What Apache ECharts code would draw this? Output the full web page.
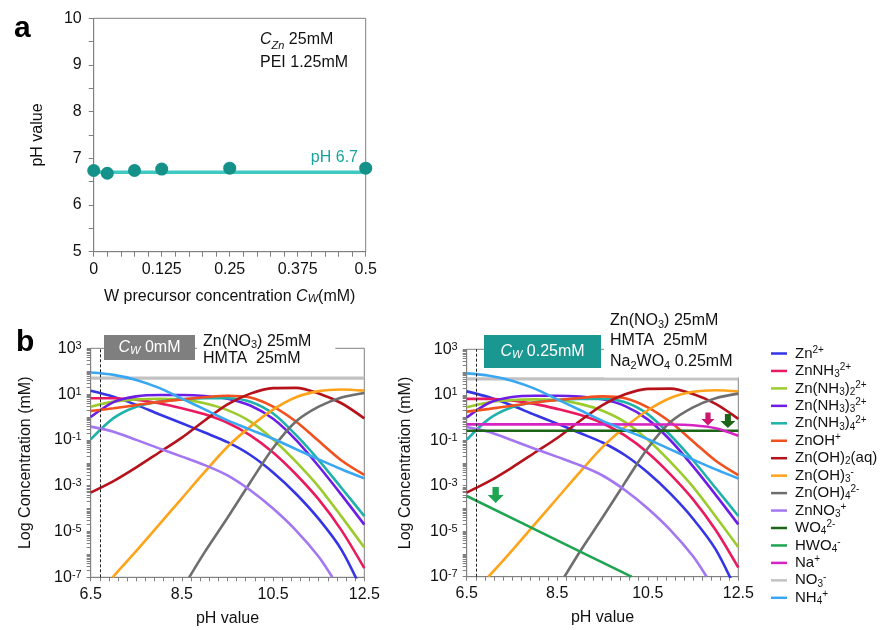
<!DOCTYPE html>
<html><head><meta charset="utf-8">
<script src="https://cdn.jsdelivr.net/npm/echarts@6/dist/echarts.min.js"></script>
<style>html,body{margin:0;padding:0;background:#fff}#c{width:888px;height:630px}</style>
</head><body><div id="c"></div>
<script>
// ---------- panel a: solution pH versus W precursor concentration ----------
const wConc = [0, 0.025, 0.075, 0.125, 0.25, 0.5];          // mM
const measuredPH = [6.74, 6.68, 6.74, 6.77, 6.79, 6.79];
const meanPH = 6.7;
const wRange = [0, 0.5];

// ---------- panel b: species distribution, values are log10 of concentration in mM ----------
const phGrid = [6.5, 7, 7.5, 8, 8.5, 9, 9.5, 10, 10.5, 11, 11.5, 12, 12.5];
const phTickValues = [6.5, 8.5, 10.5, 12.5];
const decadeLabels = [-7, -5, -3, -1, 1, 3];

const logZn = [1.15, 0.89, 0.53, 0.12, -0.27, -0.68, -1.1, -1.66, -2.42, -3.35, -4.45, -5.8, -7.8];
const logZnNH3 = [0.82, 0.82, 0.75, 0.6, 0.38, 0.12, -0.25, -0.8, -1.55, -2.5, -3.6, -4.95, -6.6];
const logZnNH3x2 = [0.45, 0.67, 0.77, 0.8, 0.77, 0.6, 0.3, -0.2, -0.98, -1.95, -3.05, -4.35, -5.7];
const logZnNH3x3 = [0.0, 0.65, 0.9, 0.96, 0.96, 0.92, 0.8, 0.5, -0.08, -1.0, -2.15, -3.4, -4.7];
const logZnNH3x4 = [-0.98, -0.05, 0.45, 0.67, 0.77, 0.82, 0.82, 0.67, 0.15, -0.78, -1.88, -3.1, -4.33];
const logZnOH = [0.26, 0.38, 0.52, 0.66, 0.77, 0.86, 0.93, 0.85, 0.45, -0.2, -1.05, -1.9, -2.53];
const logZnOH2 = [-3.3, -2.8, -2.2, -1.55, -0.9, -0.15, 0.55, 1.02, 1.26, 1.27, 1.03, 0.6, -0.06];
const logZnOH3 = [[6.98, -7], [7.5, -5.85], [8, -4.7], [8.5, -3.55], [9, -2.4], [9.5, -1.3], [10, -0.42], [10.5, 0.32], [11, 0.86], [11.5, 1.13], [12, 1.2], [12.5, 1.15]];
const logZnOH4 = [[8.66, -7], [9, -5.9], [9.5, -4.4], [10, -2.85], [10.5, -1.35], [11, -0.2], [11.5, 0.45], [12, 0.85], [12.5, 1.05]];
const logZnNO3 = [[6.5, -0.42], [7, -0.64], [7.5, -1.0], [8, -1.37], [8.5, -1.73], [9, -2.1], [9.5, -2.55], [10, -3.2], [10.5, -4.0], [11, -4.95], [11.5, -6.1], [11.8, -7]];
const logWO4 = [[6.5, -0.58], [12.5, -0.58]];
const logHWO4 = [[6.5, -3.45], [8.5, -5.4], [10.14, -7]];
const logNa = [[6.5, -0.3], [11, -0.31], [11.5, -0.34], [12, -0.47], [12.5, -0.8]];
const logNO3 = [[6.5, 1.7], [12.5, 1.7]];
const logNH4 = [1.94, 1.84, 1.62, 1.27, 0.8, 0.33, -0.15, -0.55, -0.95, -1.4, -1.85, -2.28, -2.68];

const speciesNames = ['Zn2+', 'ZnNH32+', 'Zn(NH3)22+', 'Zn(NH3)32+', 'Zn(NH3)42+', 'ZnOH+', 'Zn(OH)2(aq)',
  'Zn(OH)3-', 'Zn(OH)42-', 'ZnNO3+', 'WO42-', 'HWO4-', 'Na+', 'NO3-', 'NH4+'];
const speciesLabels = ['Zn{sp|2+}', 'ZnNH{sb|3}{sp|2+}', 'Zn(NH{sb|3}){sb|2}{sp|2+}', 'Zn(NH{sb|3}){sb|3}{sp|2+}',
  'Zn(NH{sb|3}){sb|4}{sp|2+}', 'ZnOH{sp|+}', 'Zn(OH){sb|2}(aq)', 'Zn(OH){sb|3}{sp|-}', 'Zn(OH){sb|4}{sp|2-}',
  'ZnNO{sb|3}{sp|+}', 'WO{sb|4}{sp|2-}', 'HWO{sb|4}{sp|-}', 'Na{sp|+}', 'NO{sb|3}{sp|-}', 'NH{sb|4}{sp|+}'];
const speciesColors = ['#3535e6', '#ea1a5e', '#9ccb2e', '#6d1de6', '#1fb1ac', '#f2501e', '#b5121b',
  '#ffa31a', '#6e6e6e', '#a377f2', '#1d6516', '#1fa452', '#d624c4', '#c2c2c2', '#3aa7f2'];
const speciesLogs = [logZn, logZnNH3, logZnNH3x2, logZnNH3x3, logZnNH3x4, logZnOH, logZnOH2,
  logZnOH3, logZnOH4, logZnNO3, logWO4, logHWO4, logNa, logNO3, logNH4];
// species that only exist once tungstate is added (absent from the left panel)
const noTungstate = ['WO42-', 'HWO4-', 'Na+'];

// down-arrow markers: [species, pH, log10 mM, width, height]
const arrows = [
  ['Na+', 11.83, -0.07, 13, 13],
  ['WO42-', 12.27, -0.15, 15, 14],
  ['HWO4-', 7.14, -3.41, 16, 16]
];
const arrowColors = { 'Na+': '#d0176f', 'WO42-': '#1d6516', 'HWO4-': '#1fa452' };

const toPairs = arr => (typeof arr[0] === 'number' ? arr.map((v, i) => [phGrid[i], v]) : arr);

// log-spaced tick positions (1..9 x 10^n) for the concentration axes
const logTicks = [];
for (let n = -7; n < 3; n++) for (let k = 1; k <= 9; k++) logTicks.push(n + Math.log10(k));
logTicks.push(3);

const FONT = 'Liberation Sans, Arial, sans-serif';
const AXIS_GRAY = '#808080';
const supRich = { fontSize: 11, fontFamily: FONT, verticalAlign: 'top', lineHeight: 12, color: '#111' };

const arrowPath = 'path://M3,0 L7,0 L7,6 L10,6 L5,12 L0,6 L3,6 Z';

function speciesSeries(panel) {
  const out = [];
  speciesNames.forEach((name, i) => {
    if (panel === 0 && noTungstate.includes(name)) return;
    const s = {
      name, type: 'line', xAxisIndex: panel + 1, yAxisIndex: panel + 1,
      data: toPairs(speciesLogs[i]), showSymbol: false, smooth: 0.3,
      clip: true, silent: true,
      lineStyle: { color: speciesColors[i], width: name === 'NO3-' ? 3.2 : 2.6 },
      itemStyle: { color: speciesColors[i] }
    };
    if (name === 'NO3-') {
      s.markLine = {
        silent: true, symbol: ['none', 'none'], label: { show: false },
        lineStyle: { color: '#222', type: [3, 2], width: 1 },
        data: [{ xAxis: 6.7 }]
      };
    }
    if (panel === 1) {
      const marks = arrows.filter(a => a[0] === name);
      if (marks.length) {
        s.markPoint = {
          silent: true, symbol: arrowPath, label: { show: false },
          itemStyle: { color: arrowColors[name] },
          data: marks.map(a => ({ coord: [a[1], a[2]], symbolSize: [a[3], a[4]] }))
        };
      }
    }
    out.push(s);
  });
  return out;
}

function logYAxis(grid, gap) {
  return {
    type: 'value', gridIndex: grid, min: -7, max: 3, interval: 1,
    name: 'Log Concentration (mM)', nameLocation: 'middle', nameGap: gap,
    nameTextStyle: { fontSize: 16, fontFamily: FONT, color: '#111' },
    axisLine: { show: true, lineStyle: { color: AXIS_GRAY } },
    axisTick: { show: true, length: 4, customValues: logTicks, lineStyle: { color: AXIS_GRAY } },
    splitLine: { show: false },
    axisLabel: {
      fontSize: 16, fontFamily: FONT, color: '#111', margin: 9, customValues: decadeLabels,
      formatter: v => '10{sp|' + v + '}',
      rich: { sp: supRich }
    }
  };
}

function phXAxis(grid) {
  const ticks = [];
  for (let k = 0; k <= 30; k++) ticks.push(+(6.5 + k * 0.2).toFixed(1));
  return {
    type: 'value', gridIndex: grid, min: 6.5, max: 12.5,
    name: 'pH value', nameLocation: 'middle', nameGap: 33,
    nameTextStyle: { fontSize: 16, fontFamily: FONT, color: '#111' },
    axisLine: { show: true, onZero: false, lineStyle: { color: AXIS_GRAY } },
    axisTick: { show: true, length: 4, customValues: ticks, lineStyle: { color: AXIS_GRAY } },
    splitLine: { show: false },
    axisLabel: { fontSize: 16, fontFamily: FONT, color: '#111', margin: 9, customValues: phTickValues }
  };
}

const chart = echarts.init(document.getElementById('c'), null, { renderer: 'canvas' });

chart.setOption({
  animation: false,
  backgroundColor: '#fff',
  grid: [
    { left: 93.7, top: 18.3, width: 272, height: 233.4, show: true, borderColor: AXIS_GRAY, borderWidth: 1, backgroundColor: 'transparent' },
    { left: 90.7, top: 348.3, width: 273.6, height: 229, show: true, borderColor: AXIS_GRAY, borderWidth: 1, backgroundColor: 'transparent' },
    { left: 466.7, top: 349.3, width: 271.6, height: 227.4, show: true, borderColor: AXIS_GRAY, borderWidth: 1, backgroundColor: 'transparent' }
  ],
  xAxis: [
    {
      type: 'value', gridIndex: 0, min: wRange[0], max: wRange[1], interval: 0.125,
      name: 'W precursor concentration {i|C}{isb|W}(mM)', nameLocation: 'middle', nameGap: 37,
      nameTextStyle: {
        fontSize: 16, fontFamily: FONT, color: '#111',
        rich: { i: { fontSize: 16, fontFamily: FONT, fontStyle: 'italic', color: '#111' },
                isb: { fontSize: 11, fontFamily: FONT, fontStyle: 'italic', verticalAlign: 'bottom', lineHeight: 12, color: '#111' } }
      },
      axisLine: { show: true, onZero: false, lineStyle: { color: AXIS_GRAY } },
      axisTick: { show: true, length: 5, lineStyle: { color: AXIS_GRAY } },
      minorTick: { show: true, splitNumber: 5, length: 5, lineStyle: { color: AXIS_GRAY } },
      splitLine: { show: false },
      axisLabel: { fontSize: 16, fontFamily: FONT, color: '#111', margin: 10 }
    },
    phXAxis(1),
    phXAxis(2)
  ],
  yAxis: [
    {
      type: 'value', gridIndex: 0, min: 5, max: 10, interval: 1,
      name: 'pH value', nameLocation: 'middle', nameGap: 48,
      nameTextStyle: { fontSize: 16, fontFamily: FONT, color: '#111' },
      axisLine: { show: true, lineStyle: { color: AXIS_GRAY } },
      axisTick: { show: true, length: 5, lineStyle: { color: AXIS_GRAY } },
      minorTick: { show: true, splitNumber: 2, length: 5, lineStyle: { color: AXIS_GRAY } },
      splitLine: { show: false },
      axisLabel: { fontSize: 16, fontFamily: FONT, color: '#111', margin: 12 }
    },
    logYAxis(1, 57),
    logYAxis(2, 53)
  ],
  legend: {
    orient: 'vertical', left: 766, top: 340, itemGap: 0.45, itemWidth: 16, itemHeight: 2.5,
    icon: 'rect', selectedMode: false,
    data: speciesNames,
    formatter: n => speciesLabels[speciesNames.indexOf(n)],
    textStyle: {
      fontSize: 15, fontFamily: FONT, color: '#111', lineHeight: 17, padding: [0, 0, 0, 3],
      rich: {
        sp: { fontSize: 10, fontFamily: FONT, verticalAlign: 'top', lineHeight: 11, color: '#111' },
        sb: { fontSize: 10, fontFamily: FONT, verticalAlign: 'bottom', lineHeight: 11, color: '#111' }
      }
    }
  },
  series: [
    {
      name: 'mean pH', type: 'line', xAxisIndex: 0, yAxisIndex: 0, silent: true,
      data: wRange.map(w => [w, meanPH]), showSymbol: false,
      lineStyle: { color: '#3fc9c3', width: 3.5 }, itemStyle: { color: '#3fc9c3' }
    },
    {
      name: 'measured pH', type: 'scatter', xAxisIndex: 0, yAxisIndex: 0, silent: true, z: 5,
      data: wConc.map((w, i) => [w, measuredPH[i]]), symbolSize: 13,
      itemStyle: { color: '#149189', opacity: 1 }
    },
    ...speciesSeries(0),
    ...speciesSeries(1)
  ],
  graphic: [
    { type: 'text', x: 14, y: 14, style: { text: 'a', font: 'bold 30px ' + FONT, fill: '#000' } },
    { type: 'text', x: 16, y: 328, style: { text: 'b', font: 'bold 30px ' + FONT, fill: '#000' } },
    {
      type: 'text', x: 260, y: 28, z: 10,
      style: {
        text: '{i|C}{isb|Zn} 25mM\nPEI 1.25mM', font: '16px ' + FONT, fill: '#111', lineHeight: 23,
        rich: { i: { fontSize: 16, fontFamily: FONT, fontStyle: 'italic', lineHeight: 23 },
                isb: { fontSize: 11, fontFamily: FONT, fontStyle: 'italic', verticalAlign: 'bottom', lineHeight: 16 } }
      }
    },
    {
      type: 'text', x: 358, y: 158, z: 10,
      style: { text: 'pH ' + meanPH, font: '16px ' + FONT, fill: '#1aa39d', align: 'right', verticalAlign: 'middle' }
    },
    // condition badges and reagent notes, panel b
    { type: 'rect', z: 20, shape: { x: 104, y: 335, width: 91, height: 25 }, style: { fill: '#7f7f7f' } },
    {
      type: 'text', z: 21, x: 149.5, y: 348,
      style: {
        text: '{i|C}{isb|W} 0mM', font: '16px ' + FONT, fill: '#fff', align: 'center', verticalAlign: 'middle',
        rich: { i: { fontSize: 16, fontFamily: FONT, fontStyle: 'italic', color: '#fff' },
                isb: { fontSize: 11, fontFamily: FONT, fontStyle: 'italic', verticalAlign: 'bottom', lineHeight: 14, color: '#fff' } }
      }
    },
    {
      type: 'text', z: 20, x: 197, y: 332,
      style: {
        text: 'Zn(NO{sb|3}) 25mM\nHMTA  25mM', font: '16px ' + FONT, fill: '#111', lineHeight: 17,
        backgroundColor: '#fff', padding: [1, 24, 4, 6],
        rich: { sb: { fontSize: 11, fontFamily: FONT, verticalAlign: 'bottom', lineHeight: 13 } }
      }
    },
    { type: 'rect', z: 20, shape: { x: 484, y: 335, width: 117, height: 33 }, style: { fill: '#1b9792' } },
    {
      type: 'text', z: 21, x: 542.5, y: 352,
      style: {
        text: '{i|C}{isb|W} 0.25mM', font: '16px ' + FONT, fill: '#fff', align: 'center', verticalAlign: 'middle',
        rich: { i: { fontSize: 16, fontFamily: FONT, fontStyle: 'italic', color: '#fff' },
                isb: { fontSize: 11, fontFamily: FONT, fontStyle: 'italic', verticalAlign: 'bottom', lineHeight: 14, color: '#fff' } }
      }
    },
    {
      type: 'text', z: 20, x: 604, y: 309,
      style: {
        text: 'Zn(NO{sb|3}) 25mM\nHMTA  25mM\nNa{sb|2}WO{sb|4} 0.25mM', font: '16px ' + FONT, fill: '#111', lineHeight: 20.5,
        backgroundColor: '#fff', padding: [1, 8, 6, 6],
        rich: { sb: { fontSize: 11, fontFamily: FONT, verticalAlign: 'bottom', lineHeight: 15 } }
      }
    }
  ]
});
</script>
</body></html>
